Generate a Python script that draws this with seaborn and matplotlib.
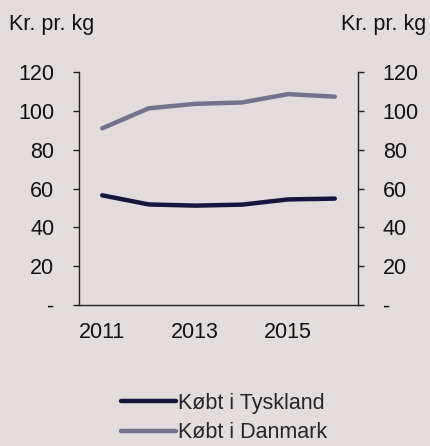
import matplotlib
matplotlib.use("Agg")
import matplotlib.pyplot as plt
import matplotlib.ticker as mticker
import seaborn as sns
import pandas as pd

years = [2011, 2012, 2013, 2014, 2015, 2016]
koebt_tyskland = [56.5, 51.8, 51.2, 51.7, 54.4, 54.8]
koebt_danmark = [91.0, 101.3, 103.6, 104.3, 108.6, 107.3]
series_names = ["Købt i Tyskland", "Købt i Danmark"]
unit_label = "Kr. pr. kg"

bg = "#e2dcdc"
colors = ["#151540", "#72718f"]
fs = 15.5

df = pd.DataFrame({
    "year": years * 2,
    "value": koebt_tyskland + koebt_danmark,
    "serie": [series_names[0]] * len(years) + [series_names[1]] * len(years),
})

sns.set_style("white")
plt.rcParams["font.family"] = ["Liberation Sans", "DejaVu Sans"]
plt.rcParams["font.size"] = fs

fig = plt.figure(figsize=(4.3, 4.46), dpi=100, facecolor=bg)
ax = fig.add_axes([0.1837, 0.316, 0.649, 0.5226])
ax.set_facecolor(bg)

sns.lineplot(data=df, x="year", y="value", hue="serie", palette=colors,
             linewidth=3.2, ax=ax, legend=False)

ax.set_xlim(2010.5, 2016.5)
ax.set_ylim(0, 120)
ax.set_xlabel("")
ax.set_ylabel("")
ax.set_xticks([2011, 2013, 2015])
ax.set_yticks([0, 20, 40, 60, 80, 100, 120])
fmt = mticker.FuncFormatter(lambda v, p: "-" if v == 0 else f"{int(v)}")
ax.yaxis.set_major_formatter(fmt)

ax.spines["top"].set_visible(False)
for s in ["left", "right", "bottom"]:
    ax.spines[s].set_color("#222222")
    ax.spines[s].set_linewidth(1.0)

ax.tick_params(axis="y", which="both", left=True, right=True, labelleft=True,
               labelright=True, direction="out", length=4.3, width=1.0,
               color="#222222", pad=13.5, labelsize=fs, labelcolor="#111111")
ax.tick_params(axis="x", bottom=False, length=0, pad=12, labelsize=fs,
               labelcolor="#111111")

fig.text(0.021, 0.944, unit_label, ha="left", va="center", fontsize=fs, color="#111111")
fig.text(0.991, 0.944, unit_label, ha="right", va="center", fontsize=fs, color="#111111")

handles = [plt.Line2D([], [], color=c, linewidth=3.2) for c in colors]
fig.legend(handles, series_names, loc="center", bbox_to_anchor=(0.521, 0.063),
           frameon=False, handlelength=2.56, handletextpad=0.1,
           labelspacing=0.4, fontsize=fs)

fig.savefig("out.png", dpi=100, facecolor=bg)
